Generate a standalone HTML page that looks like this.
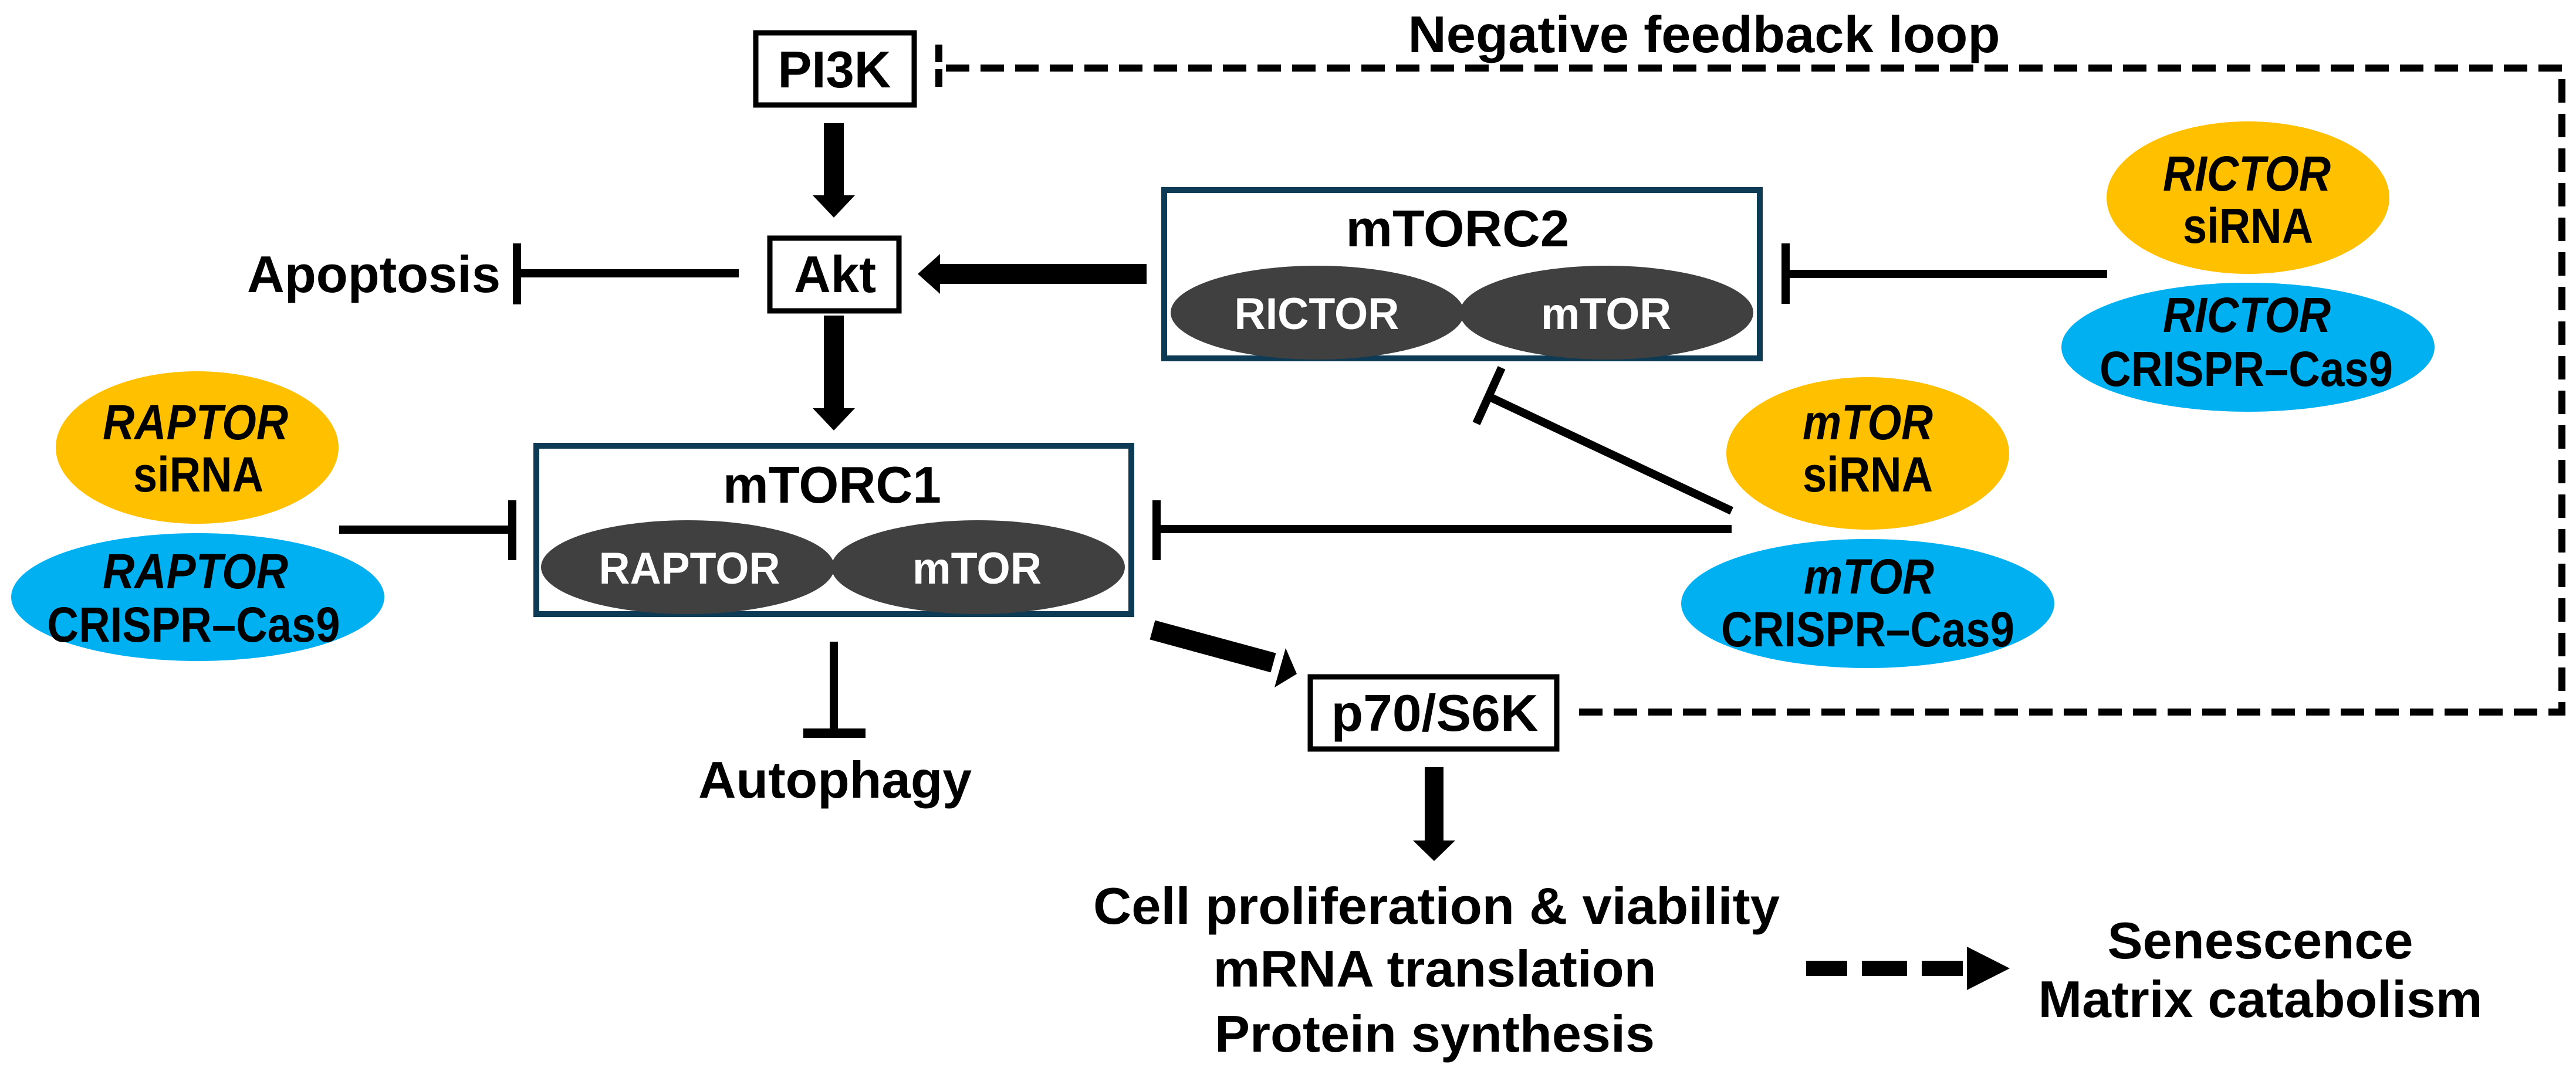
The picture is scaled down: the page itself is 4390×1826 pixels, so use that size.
<!DOCTYPE html>
<html><head><meta charset="utf-8"><style>html,body{margin:0;padding:0;background:#fff}svg{display:block}</style></head>
<body>
<svg width="4390" height="1826" viewBox="0 0 4390 1826" xmlns="http://www.w3.org/2000/svg" font-family="'Liberation Sans', Arial, sans-serif" font-weight="bold">
<rect width="4390" height="1826" fill="#fff"/>
<!-- feedback dashed loop -->
<g stroke="#000" stroke-width="12" fill="none" stroke-dasharray="40 19">
<path d="M1612 116 H4366 V1214 H2673"/>
</g>
<path d="M1600 76 V156" stroke="#000" stroke-width="12" stroke-dasharray="30 12"/>
<text x="2904" y="89" font-size="88" text-anchor="middle" textLength="1009" lengthAdjust="spacingAndGlyphs">Negative feedback loop</text>

<!-- PI3K -->
<rect x="1288" y="56" width="270" height="123" fill="#fff" stroke="#000" stroke-width="9"/>
<text x="1422" y="149" font-size="88" text-anchor="middle" textLength="193" lengthAdjust="spacingAndGlyphs">PI3K</text>
<!-- PI3K -> Akt -->
<rect x="1404" y="210" width="34" height="125" fill="#000"/>
<polygon points="1385,333 1457,333 1421,371" fill="#000"/>
<!-- Akt -->
<rect x="1312" y="406" width="220" height="124" fill="#fff" stroke="#000" stroke-width="9"/>
<text x="1423" y="498" font-size="88" text-anchor="middle" textLength="140" lengthAdjust="spacingAndGlyphs">Akt</text>
<!-- Apoptosis -->
<text x="637" y="498" font-size="88" text-anchor="middle" textLength="432" lengthAdjust="spacingAndGlyphs">Apoptosis</text>
<line x1="881" y1="466" x2="1259" y2="466" stroke="#000" stroke-width="14"/>
<line x1="881" y1="415" x2="881" y2="519" stroke="#000" stroke-width="14"/>
<!-- mTORC2 -> Akt -->
<rect x="1598" y="450" width="356" height="34" fill="#000"/>
<polygon points="1564,467 1602,433 1602,501" fill="#000"/>
<!-- Akt -> mTORC1 -->
<rect x="1404" y="538" width="34" height="160" fill="#000"/>
<polygon points="1385,696 1457,696 1421,734" fill="#000"/>

<!-- mTORC1 -->
<rect x="914" y="760" width="1014" height="287" fill="#fff" stroke="#0d3a55" stroke-width="10"/>
<text x="1418" y="857" font-size="88" text-anchor="middle" textLength="372" lengthAdjust="spacingAndGlyphs">mTORC1</text>
<ellipse cx="1172" cy="967" rx="250" ry="80" fill="#404040"/>
<ellipse cx="1667" cy="967" rx="250" ry="80" fill="#404040"/>
<text x="1175" y="995" font-size="76" fill="#fff" text-anchor="middle" textLength="309" lengthAdjust="spacingAndGlyphs">RAPTOR</text>
<text x="1665" y="995" font-size="76" fill="#fff" text-anchor="middle" textLength="220" lengthAdjust="spacingAndGlyphs">mTOR</text>

<!-- mTORC2 -->
<rect x="1984" y="324" width="1015" height="287" fill="#fff" stroke="#0d3a55" stroke-width="10"/>
<text x="2484" y="420" font-size="88" text-anchor="middle" textLength="381" lengthAdjust="spacingAndGlyphs">mTORC2</text>
<ellipse cx="2245" cy="533" rx="250" ry="80" fill="#404040"/>
<ellipse cx="2738" cy="533" rx="250" ry="80" fill="#404040"/>
<text x="2244" y="561" font-size="76" fill="#fff" text-anchor="middle" textLength="281" lengthAdjust="spacingAndGlyphs">RICTOR</text>
<text x="2737" y="561" font-size="76" fill="#fff" text-anchor="middle" textLength="222" lengthAdjust="spacingAndGlyphs">mTOR</text>

<!-- RAPTOR knockdowns -->
<ellipse cx="336" cy="763" rx="241" ry="130" fill="#FFC000"/>
<ellipse cx="337" cy="1018" rx="318" ry="109" fill="#00B0F0"/>
<text x="333" y="749" font-size="84" font-style="italic" text-anchor="middle" textLength="316" lengthAdjust="spacingAndGlyphs">RAPTOR</text>
<text x="338" y="838" font-size="84" text-anchor="middle" textLength="222" lengthAdjust="spacingAndGlyphs">siRNA</text>
<text x="333" y="1003" font-size="84" font-style="italic" text-anchor="middle" textLength="316" lengthAdjust="spacingAndGlyphs">RAPTOR</text>
<text x="330" y="1094" font-size="84" text-anchor="middle" textLength="499" lengthAdjust="spacingAndGlyphs">CRISPR–Cas9</text>
<line x1="578" y1="903" x2="873" y2="903" stroke="#000" stroke-width="14"/>
<line x1="873" y1="853" x2="873" y2="955" stroke="#000" stroke-width="14"/>

<!-- RICTOR knockdowns -->
<ellipse cx="3831" cy="337" rx="241" ry="130" fill="#FFC000"/>
<ellipse cx="3831" cy="592" rx="318" ry="110" fill="#00B0F0"/>
<text x="3829" y="325" font-size="84" font-style="italic" text-anchor="middle" textLength="286" lengthAdjust="spacingAndGlyphs">RICTOR</text>
<text x="3831" y="414" font-size="84" text-anchor="middle" textLength="222" lengthAdjust="spacingAndGlyphs">siRNA</text>
<text x="3829" y="566" font-size="84" font-style="italic" text-anchor="middle" textLength="286" lengthAdjust="spacingAndGlyphs">RICTOR</text>
<text x="3828" y="658" font-size="84" text-anchor="middle" textLength="500" lengthAdjust="spacingAndGlyphs">CRISPR–Cas9</text>
<line x1="3043" y1="467" x2="3591" y2="467" stroke="#000" stroke-width="14"/>
<line x1="3043" y1="415" x2="3043" y2="518" stroke="#000" stroke-width="14"/>

<!-- mTOR knockdowns -->
<ellipse cx="3183" cy="773" rx="241" ry="130" fill="#FFC000"/>
<ellipse cx="3183" cy="1029" rx="318" ry="110" fill="#00B0F0"/>
<text x="3183" y="749" font-size="84" font-style="italic" text-anchor="middle" textLength="222" lengthAdjust="spacingAndGlyphs">mTOR</text>
<text x="3183" y="838" font-size="84" text-anchor="middle" textLength="222" lengthAdjust="spacingAndGlyphs">siRNA</text>
<text x="3185" y="1012" font-size="84" font-style="italic" text-anchor="middle" textLength="222" lengthAdjust="spacingAndGlyphs">mTOR</text>
<text x="3183" y="1102" font-size="84" text-anchor="middle" textLength="500" lengthAdjust="spacingAndGlyphs">CRISPR–Cas9</text>
<line x1="1971" y1="902" x2="2951" y2="902" stroke="#000" stroke-width="14"/>
<line x1="1971" y1="853" x2="1971" y2="955" stroke="#000" stroke-width="14"/>
<line x1="2951" y1="871" x2="2537" y2="676" stroke="#000" stroke-width="14"/>
<line x1="2516" y1="722" x2="2559" y2="627" stroke="#000" stroke-width="14"/>

<!-- Autophagy -->
<line x1="1421" y1="1094" x2="1421" y2="1250" stroke="#000" stroke-width="14"/>
<line x1="1369" y1="1250" x2="1475" y2="1250" stroke="#000" stroke-width="16"/>
<text x="1423" y="1360" font-size="88" text-anchor="middle" textLength="466" lengthAdjust="spacingAndGlyphs">Autophagy</text>

<!-- mTORC1 -> p70 -->
<line x1="1964" y1="1074" x2="2170" y2="1130" stroke="#000" stroke-width="34"/>
<polygon points="2210,1149 2191,1105 2172,1172" fill="#000"/>
<!-- p70/S6K -->
<rect x="2233" y="1154" width="420" height="123" fill="#fff" stroke="#000" stroke-width="9"/>
<text x="2445" y="1246" font-size="88" text-anchor="middle" textLength="353" lengthAdjust="spacingAndGlyphs">p70/S6K</text>
<rect x="2428" y="1308" width="32" height="128" fill="#000"/>
<polygon points="2408,1433 2480,1433 2444,1468" fill="#000"/>

<!-- outcomes -->
<text x="2448" y="1575" font-size="88" text-anchor="middle" textLength="1170" lengthAdjust="spacingAndGlyphs">Cell proliferation &amp; viability</text>
<text x="2445" y="1682" font-size="88" text-anchor="middle" textLength="755" lengthAdjust="spacingAndGlyphs">mRNA translation</text>
<text x="2445" y="1793" font-size="88" text-anchor="middle" textLength="750" lengthAdjust="spacingAndGlyphs">Protein synthesis</text>
<rect x="3078" y="1638" width="70" height="26" fill="#000"/>
<rect x="3173" y="1638" width="77" height="26" fill="#000"/>
<rect x="3275" y="1638" width="70" height="26" fill="#000"/>
<polygon points="3352,1614 3352,1688 3425,1651" fill="#000"/>
<text x="3852" y="1634" font-size="88" text-anchor="middle" textLength="521" lengthAdjust="spacingAndGlyphs">Senescence</text>
<text x="3852" y="1734" font-size="88" text-anchor="middle" textLength="757" lengthAdjust="spacingAndGlyphs">Matrix catabolism</text>
</svg>
</body></html>
